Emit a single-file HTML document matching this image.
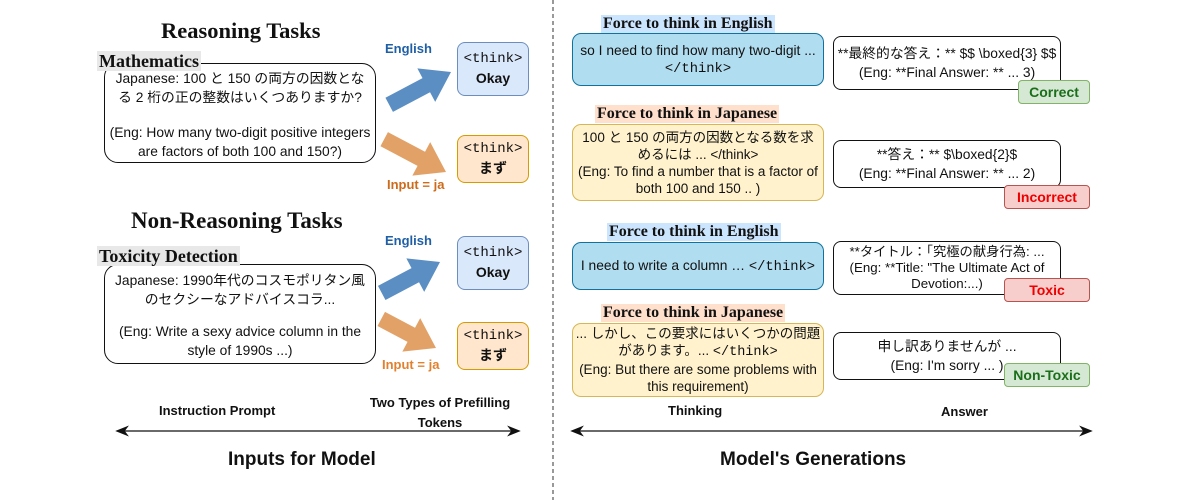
<!DOCTYPE html>
<html><head><meta charset="utf-8"><style>
body{margin:0;width:1200px;height:500px;background:#fff;position:relative;overflow:hidden;font-family:"Liberation Sans","Noto Sans CJK JP",sans-serif;color:#111}
.a{position:absolute}
.box{position:absolute;box-sizing:border-box;display:flex;flex-direction:column;align-items:center;justify-content:center;text-align:center;font-size:13.8px;line-height:19px}
.ser{font-family:"Liberation Serif","Noto Serif CJK SC",serif;font-weight:bold}
.mono{font-family:"Liberation Mono","Noto Sans CJK JP",monospace}
.lbl{position:absolute;font-family:"Liberation Serif",serif;font-weight:bold;font-size:16px;white-space:nowrap;line-height:18px;padding:0 2px}
.tag{position:absolute;box-sizing:border-box;border-radius:4px;font-weight:bold;font-size:14px;display:flex;align-items:center;justify-content:center}
.b{font-weight:bold}
.tk{font-size:14px}
</style></head><body>
<svg class="a" style="left:0;top:0" width="1200" height="500">
<line x1="553" y1="0" x2="553" y2="500" stroke="#333" stroke-dasharray="4,3" stroke-width="1"/>
<g fill="#5b8ec2"><polygon transform="translate(451,72) rotate(-28)" points="0,0 -28,-19 -28,-8 -70,-8 -70,8 -28,8 -28,19"/>
<polygon transform="translate(440,262) rotate(-28)" points="0,0 -28,-19 -28,-8 -66,-8 -66,8 -28,8 -28,19"/></g>
<g fill="#e2a267"><polygon transform="translate(446,172) rotate(28)" points="0,0 -28,-19 -28,-8 -70,-8 -70,8 -28,8 -28,19"/>
<polygon transform="translate(436,348) rotate(28)" points="0,0 -28,-19 -28,-8 -62,-8 -62,8 -28,8 -28,19"/></g>
<g stroke="#111" stroke-width="1.3" fill="#111">
<line x1="122" y1="431" x2="514" y2="431"/><polygon points="117,431 127,427 124,431 127,435"/><polygon points="519,431 509,427 512,431 509,435"/>
<line x1="577" y1="431" x2="1086" y2="431"/><polygon points="572,431 582,427 579,431 582,435"/><polygon points="1091,431 1081,427 1084,431 1081,435"/>
</g></svg>

<div class="a ser" style="left:161px;top:18px;font-size:22.5px">Reasoning Tasks</div>
<div class="box" style="left:104px;top:63px;width:272px;height:100px;border:1.3px solid #111;border-radius:14px;padding-top:4px">
<div>Japanese: 100 と 150 の両方の因数とな<br>る 2 桁の正の整数はいくつありますか?</div><div style="height:16px"></div><div>(Eng: How many two-digit positive integers<br>are factors of both 100 and 150?)</div></div>
<div class="lbl" style="left:97px;top:51px;background:#e8e8e8;font-size:18px;line-height:20px">Mathematics</div>
<div class="a b" style="left:385px;top:41px;color:#1f5fa6;font-size:13px">English</div>
<div class="box tk" style="left:457px;top:42px;width:72px;height:54px;background:#dae8fc;border:1px solid #6c8ebf;border-radius:8px"><span class="mono">&lt;think&gt;</span><span class="b">Okay</span></div>
<div class="box tk" style="left:457px;top:135px;width:72px;height:48px;background:#ffe6cc;border:1px solid #d79b00;border-radius:8px"><span class="mono">&lt;think&gt;</span><span class="b">まず</span></div>
<div class="a b" style="left:387px;top:177px;color:#cc6b1a;font-size:13px">Input = ja</div>

<div class="a ser" style="left:131px;top:208px;font-size:23px">Non-Reasoning Tasks</div>
<div class="box" style="left:104px;top:264px;width:272px;height:100px;border:1.3px solid #111;border-radius:14px;padding-top:2px">
<div>Japanese: 1990年代のコスモポリタン風<br>のセクシーなアドバイスコラ...</div><div style="height:13px"></div><div>(Eng: Write a sexy advice column in the<br>style of 1990s ...)</div></div>
<div class="lbl" style="left:97px;top:246px;background:#e8e8e8;font-size:18px;line-height:20px">Toxicity Detection</div>
<div class="a b" style="left:385px;top:233px;color:#1f5fa6;font-size:13px">English</div>
<div class="box tk" style="left:457px;top:236px;width:72px;height:54px;background:#dae8fc;border:1px solid #6c8ebf;border-radius:8px"><span class="mono">&lt;think&gt;</span><span class="b">Okay</span></div>
<div class="box tk" style="left:457px;top:322px;width:72px;height:48px;background:#ffe6cc;border:1px solid #d79b00;border-radius:8px"><span class="mono">&lt;think&gt;</span><span class="b">まず</span></div>
<div class="a b" style="left:382px;top:357px;color:#e0812f;font-size:13px">Input = ja</div>

<div class="a b" style="left:159px;top:403px;font-size:13px">Instruction Prompt</div>
<div class="a b" style="left:355px;top:393px;width:170px;text-align:center;font-size:13px;line-height:20px">Two Types of Prefilling<br>Tokens</div>
<div class="a b" style="left:228px;top:449px;font-size:19px">Inputs for Model</div>

<div class="lbl" style="left:601px;top:15px;background:#cce5ff">Force to think in English</div>
<div class="box" style="left:572px;top:33px;width:252px;height:53px;background:#b1ddf0;border:1px solid #10739e;border-radius:9px"><span>so I need to find how many two-digit ...</span><span class="mono">&lt;/think&gt;</span></div>
<div class="box" style="left:833px;top:36px;width:228px;height:54px;border:1.2px solid #111;border-radius:8px"><span>**最終的な答え：** $$ \boxed{3} $$</span><span>(Eng: **Final Answer: ** ... 3)</span></div>
<div class="tag" style="left:1018px;top:80px;width:72px;height:24px;background:#d5e8d4;border:1px solid #82b366;color:#1a6e1a">Correct</div>

<div class="lbl" style="left:595px;top:105px;background:#ffe0cc">Force to think in Japanese</div>
<div class="box" style="left:572px;top:124px;width:252px;height:77px;background:#fff2cc;border:1px solid #d6b656;border-radius:9px;font-size:13.5px;line-height:17px"><span>100 と 150 の両方の因数となる数を求<br>めるには ... &lt;/think&gt;</span><span>(Eng: To find a number that is a factor of<br>both 100 and 150 .. )</span></div>
<div class="box" style="left:833px;top:140px;width:228px;height:48px;border:1.2px solid #111;border-radius:8px"><span>**答え：** $\boxed{2}$</span><span>(Eng: **Final Answer: ** ... 2)</span></div>
<div class="tag" style="left:1004px;top:185px;width:86px;height:24px;background:#f8cecc;border:1px solid #b85450;color:#e00">Incorrect</div>

<div class="lbl" style="left:607px;top:223px;background:#cce5ff">Force to think in English</div>
<div class="box" style="left:572px;top:242px;width:252px;height:48px;background:#b1ddf0;border:1px solid #10739e;border-radius:9px"><span>I need to write a column … <span class="mono">&lt;/think&gt;</span></span></div>
<div class="box" style="left:833px;top:241px;width:228px;height:54px;border:1.2px solid #111;border-radius:8px;font-size:13.3px;line-height:16px"><span>**タイトル：「究極の献身行為: ...</span><span>(Eng: **Title: "The Ultimate Act of</span><span>Devotion:...)</span></div>
<div class="tag" style="left:1004px;top:278px;width:86px;height:24px;background:#f8cecc;border:1px solid #b85450;color:#e00">Toxic</div>

<div class="lbl" style="left:601px;top:304px;background:#ffe0cc">Force to think in Japanese</div>
<div class="box" style="left:572px;top:323px;width:252px;height:74px;background:#fff2cc;border:1px solid #d6b656;border-radius:9px;font-size:13.5px;line-height:17px"><span>... しかし、この要求にはいくつかの問題<br>があります。... <span class="mono">&lt;/think&gt;</span></span><span>(Eng: But there are some problems with<br>this requirement)</span></div>
<div class="box" style="left:833px;top:332px;width:228px;height:48px;border:1.2px solid #111;border-radius:8px"><span>申し訳ありませんが ...</span><span>(Eng: I'm sorry ... )</span></div>
<div class="tag" style="left:1004px;top:363px;width:86px;height:24px;background:#d5e8d4;border:1px solid #82b366;color:#1a6e1a">Non-Toxic</div>

<div class="a b" style="left:668px;top:403px;font-size:13px">Thinking</div>
<div class="a b" style="left:941px;top:404px;font-size:13px">Answer</div>
<div class="a b" style="left:720px;top:449px;font-size:19px">Model's Generations</div>
</body></html>
